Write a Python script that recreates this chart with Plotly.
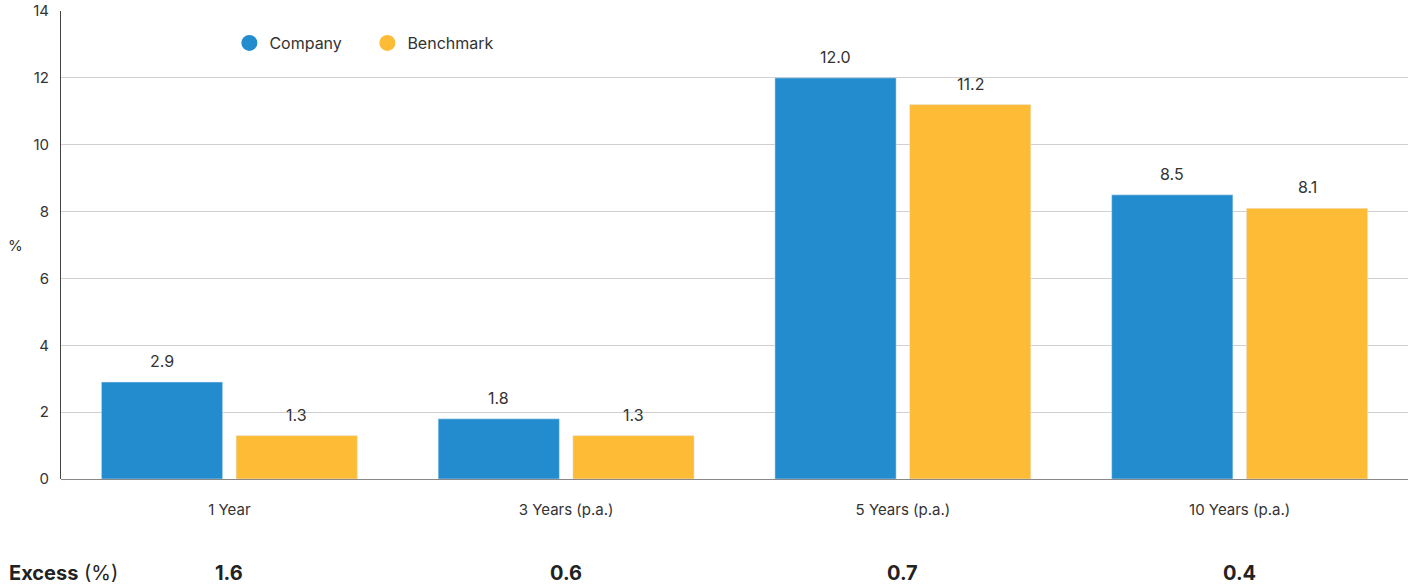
import plotly.graph_objects as go

categories = ["1 Year", "3 Years (p.a.)", "5 Years (p.a.)", "10 Years (p.a.)"]
company = [2.9, 1.8, 12.0, 8.5]
benchmark = [1.3, 1.3, 11.2, 8.1]
excess = [1.6, 0.6, 0.7, 0.4]
series_names = ["Company", "Benchmark"]
y_ticks = [0, 2, 4, 6, 8, 10, 12, 14]

BLUE = "#228cce"
YELLOW = "#fdbb36"
TXT = "#333333"
FONT = "Inter, Roboto, sans-serif"

fig = go.Figure()
fig.add_trace(go.Bar(x=categories, y=company, marker_color=BLUE, name=series_names[0],
                     showlegend=False, hoverinfo="skip"))
fig.add_trace(go.Bar(x=categories, y=benchmark, marker_color=YELLOW, name=series_names[1],
                     showlegend=False, hoverinfo="skip"))
# legend entries with circular markers
for nm, col in zip(series_names, [BLUE, YELLOW]):
    fig.add_trace(go.Scatter(x=[None], y=[None], mode="markers", name=nm,
                             marker=dict(color=col, size=16, symbol="circle")))

annotations = []
for cat, c, b in zip(categories, company, benchmark):
    for val, shift in ((c, -67.5), (b, 67.5)):
        annotations.append(dict(x=cat, y=val, xref="x", yref="y", text=f"{val:.1f}",
                                showarrow=False, xshift=shift, yanchor="bottom", yshift=9,
                                font=dict(family=FONT, size=16, color=TXT)))
for cat, e in zip(categories, excess):
    annotations.append(dict(x=cat, y=-0.2, xref="x", yref="paper", text=f"<b>{e:.1f}</b>",
                            showarrow=False, yanchor="middle", yshift=0,
                            font=dict(family=FONT, size=20, color="#222222")))
annotations.append(dict(x=0, y=-0.2, xref="paper", yref="paper", text="<b>Excess</b> (%)",
                        showarrow=False, xanchor="left", xshift=-54, yanchor="middle",
                        font=dict(family=FONT, size=20, color="#222222")))
annotations.append(dict(x=0, y=0.5, xref="paper", yref="paper", text="%",
                        showarrow=False, xanchor="center", xshift=-46, yanchor="middle",
                        font=dict(family=FONT, size=15, color=TXT)))

fig.update_layout(
    width=1408, height=587,
    margin=dict(l=61, r=0, t=11, b=108),
    plot_bgcolor="white", paper_bgcolor="white",
    barmode="group", bargap=0.2, bargroupgap=0.1,
    font=dict(family=FONT, size=15, color=TXT),
    showlegend=True,
    legend=dict(orientation="h", x=0.125, y=0.968, xanchor="left", yanchor="top",
                font=dict(family=FONT, size=16, color=TXT),
                entrywidth=93, entrywidthmode="pixels", bgcolor="rgba(0,0,0,0)"),
    annotations=annotations,
    xaxis=dict(showgrid=False, showline=False, ticks="", tickfont=dict(size=15, color=TXT),
               ticklabelstandoff=20),
    yaxis=dict(range=[0, 14], tickvals=y_ticks, showgrid=True, gridcolor="#d0d0d0",
               gridwidth=1, showline=True, linecolor="#444444", linewidth=1,
               zeroline=True, zerolinecolor="#888888", zerolinewidth=1,
               ticks="", tickfont=dict(size=15, color=TXT), ticklabelstandoff=8),
)

fig.write_html("out.html")
